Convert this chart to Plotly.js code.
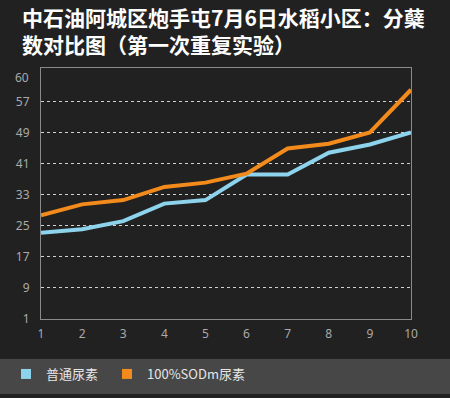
<!DOCTYPE html>
<html>
<head>
<meta charset="utf-8">
<script src="https://cdn.plot.ly/plotly-3.0.1.min.js"></script>
<style>html,body{margin:0;padding:0;background:#212121;}#chart{width:450px;height:398px;}</style>
</head>
<body>
<div id="chart"></div>
<script>
// Data
var categories = [1, 2, 3, 4, 5, 6, 7, 8, 9, 10];
var seriesNames = ['普通尿素', '100%SODm尿素'];
var normalUrea = [23.2, 24.1, 26.2, 30.7, 31.6, 38.2, 38.2, 43.8, 45.9, 49];
var sodmUrea = [27.7, 30.5, 31.6, 35.0, 36.1, 38.4, 44.9, 46.1, 49.0, 60];
var yTickVals = [1, 9, 17, 25, 33, 41, 49, 57];
var yTickText = ['1', '9', '17', '25', '33', '41', '49', '57'];
var yTopLabel = '60';
var titleText = '中石油阿城区炮手屯7月6日水稻小区：分蘖<br>数对比图（第一次重复实验）';

var blue = '#8ed3ec';
var orange = '#f28a1c';
var tickFont = {family: 'Noto Sans, DejaVu Sans, sans-serif', size: 12, color: '#aaaaaa'};
var legendFont = {family: 'Noto Sans CJK SC, sans-serif', size: 13, color: '#e6e6e6'};

var traces = [
  {x: categories, y: normalUrea, name: seriesNames[0], type: 'scatter', mode: 'lines',
   line: {color: blue, width: 4}, showlegend: false, hoverinfo: 'x+y'},
  {x: categories, y: sodmUrea, name: seriesNames[1], type: 'scatter', mode: 'lines',
   line: {color: orange, width: 4}, showlegend: false, hoverinfo: 'x+y'},
  {x: [null], y: [null], name: seriesNames[0], type: 'scatter', mode: 'markers',
   marker: {symbol: 'square', size: 10, color: blue}, showlegend: true, legend: 'legend'},
  {x: [null], y: [null], name: seriesNames[1], type: 'scatter', mode: 'markers',
   marker: {symbol: 'square', size: 10, color: orange}, showlegend: true, legend: 'legend2'}
];

var legendY = 1 - 374/398;

var layout = {
  width: 450, height: 398,
  margin: {l: 41, r: 39, t: 68, b: 79},
  paper_bgcolor: '#212121',
  plot_bgcolor: '#212121',
  title: {
    text: titleText,
    font: {family: 'Noto Sans CJK SC, sans-serif', size: 21, color: '#ffffff', weight: 'bold'},
    x: 22/450, xanchor: 'left', xref: 'container',
    y: 1 - 26/398, yanchor: 'middle', yref: 'container'
  },
  xaxis: {
    range: [1, 10], tickvals: categories, ticktext: categories.map(String),
    showgrid: false, zeroline: false, showline: true, linecolor: '#8a8a8a', linewidth: 1,
    mirror: true, ticks: '', tickfont: tickFont, ticklabelstandoff: 4, fixedrange: true
  },
  yaxis: {
    range: [1, 65.6], tickvals: yTickVals, ticktext: yTickText,
    showgrid: true, gridcolor: '#d0d0d0', griddash: 'dot', gridwidth: 1,
    zeroline: false, showline: true, linecolor: '#8a8a8a', linewidth: 1,
    mirror: true, ticks: '', tickfont: tickFont, ticklabelstandoff: 8, fixedrange: true
  },
  shapes: [{
    type: 'rect', xref: 'paper', yref: 'paper', layer: 'below',
    x0: -41/370, x1: 1 + 39/370, y0: -(394-319)/251, y1: -(359-319)/251,
    fillcolor: '#474747', line: {width: 0}
  }],
  annotations: [{
    text: yTopLabel, xref: 'paper', yref: 'paper', x: -10/370, y: (319-77)/251,
    xanchor: 'right', yanchor: 'middle', showarrow: false, font: tickFont
  }],
  legend: {
    orientation: 'h', xref: 'container', yref: 'container',
    x: 6/450, xanchor: 'left', y: legendY, yanchor: 'middle',
    bgcolor: 'rgba(0,0,0,0)', font: legendFont
  },
  legend2: {
    orientation: 'h', xref: 'container', yref: 'container',
    x: 107/450, xanchor: 'left', y: legendY, yanchor: 'middle',
    bgcolor: 'rgba(0,0,0,0)', font: legendFont
  },
  showlegend: true
};

Plotly.newPlot('chart', traces, layout, {displayModeBar: false, staticPlot: true});
</script>
</body>
</html>
